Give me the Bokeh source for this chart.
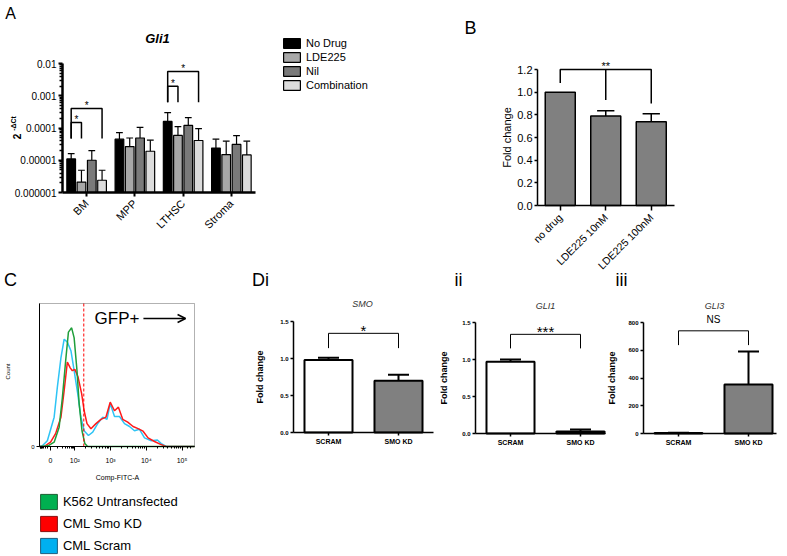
import numpy as np
from bokeh.plotting import figure
from bokeh.layouts import column, row
from bokeh.models import (Range1d, FixedTicker, Label, Legend, LegendItem, BoxAnnotation,
                          Arrow, OpenHead, PrintfTickFormatter)
from bokeh.embed import file_html
from bokeh.resources import INLINE

FONT = "Liberation Sans"

# ---------------- Panel A data ----------------
a_groups = ["BM", "MPP", "LTHSC", "Stroma"]
a_series = ["No Drug", "LDE225", "Nil", "Combination"]
a_colors = ["#000000", "#a8a8a8", "#7a7a7a", "#dcdcdc"]
a_no_drug = [1.1e-5, 4.5e-5, 1.6e-4, 2.4e-5]
a_no_drug_err = [1.6e-5, 7.2e-5, 3.0e-4, 4.5e-5]
a_lde225 = [2.1e-6, 2.65e-5, 5.9e-5, 1.5e-5]
a_lde225_err = [4.9e-6, 4.9e-5, 1.1e-4, 3.9e-5]
a_nil = [1.0e-5, 4.9e-5, 1.2e-4, 3.1e-5]
a_nil_err = [2.0e-5, 1.05e-4, 2.1e-4, 5.8e-5]
a_comb = [2.4e-6, 1.9e-5, 4.1e-5, 1.46e-5]
a_comb_err = [4.9e-6, 4.2e-5, 9.5e-5, 3.9e-5]
a_yticks = [1e-6, 1e-5, 1e-4, 1e-3, 1e-2]
a_ytick_labels = ["0.000001", "0.00001", "0.0001", "0.001", "0.01"]
# (group, series i, series j, bracket top, leg bottom, text)
a_sig = [("BM", 0, 3, 4.0e-4, 4.7e-5, "*"), ("BM", 0, 1, 1.48e-4, 4.7e-5, "*"),
         ("LTHSC", 0, 3, 5.65e-3, 6.3e-4, "*"), ("LTHSC", 0, 1, 1.98e-3, 6.3e-4, "*")]

# ---------------- Panel B data ----------------
b_categories = ["no drug", "LDE225 10nM", "LDE225 100nM"]
b_values = [1.0, 0.79, 0.74]
b_err = [1.0, 0.835, 0.81]
b_yticks = [0.0, 0.2, 0.4, 0.6, 0.8, 1.0, 1.2]

# ---------------- Panel C data (flow histogram, biexponential display units) ----------------
c_xticks = [1.32, 2, 3, 4, 5]
c_xtick_labels = ["0", "10²", "10³", "10⁴", "10⁵"]
c_green_x = [1.01, 1.25, 1.42, 1.56, 1.65, 1.75, 1.82, 1.91, 1.98, 2.06, 2.12, 2.20, 2.28, 2.36, 2.6, 5.35]
c_green_y = [0, 0.5, 3, 13.5, 34, 62, 80, 83, 76, 53, 30, 11, 2, 0, 0, 0]
c_cyan_x = [1.01, 1.09, 1.23, 1.42, 1.51, 1.61, 1.70, 1.79, 1.89, 1.98, 2.08, 2.17, 2.26, 2.38, 2.50,
            2.64, 2.78, 2.90, 2.99, 3.11, 3.25, 3.39, 3.53, 3.67, 3.81, 3.95, 4.14, 4.31, 4.42, 4.56, 5.35]
c_cyan_y = [0, 0.5, 4, 20.5, 41.5, 62, 75, 73, 67, 53, 37, 20.5, 11, 7.7, 10,
            16, 20.5, 19, 30, 21, 21, 16, 14, 11, 12, 6, 4, 4.5, 2, 0, 0]
c_red_x = [1.01, 1.14, 1.32, 1.46, 1.61, 1.70, 1.79, 1.87, 1.93, 2.0, 2.09, 2.19, 2.26, 2.34, 2.45,
           2.59, 2.73, 2.87, 2.99, 3.11, 3.22, 3.34, 3.48, 3.63, 3.77, 3.91, 4.05, 4.23, 4.40, 4.55, 5.35]
c_red_y = [0, 0, 3, 9, 20.5, 39, 59, 55, 53, 54, 48.5, 37, 25, 16, 12.4,
           16, 19, 20.5, 31, 25, 27.5, 19, 17, 14, 12.5, 10.7, 6, 3.5, 1.5, 0, 0]
c_gate = 2.25
c_legend = ["K562 Untransfected", "CML Smo KD", "CML Scram"]
c_legend_fill = ["#00b050", "#ff0000", "#00b0f0"]
c_legend_line = ["#1c5e33", "#8a1010", "#1d5f7f"]

# ---------------- Panel D data ----------------
d_categories = ["SCRAM", "SMO KD"]
d_colors = ["#ffffff", "#808080"]
smo_values = [0.98, 0.70]
smo_err = [1.01, 0.78]
gli1_values = [0.97, 0.027]
gli1_err = [1.0, 0.054]
gli3_values = [3, 353]
gli3_err = [5, 591]


def span_x(d0, d1, p0, p1, c0, c1):
    """data d0..d1 drawn at canvas pixels p0..p1; canvas spans c0..c1"""
    s = (p1 - p0) / (d1 - d0)
    return d0 - (p0 - c0) / s, d1 + (c1 - p1) / s


def span_y(d0, d1, pb, pt, cb, ct):
    """data d0 at pixel pb (bottom), d1 at pixel pt (top); canvas from ct (top) to cb (bottom)"""
    s = (pb - pt) / (d1 - d0)
    return d0 - (cb - pb) / s, d1 + (pt - ct) / s


class Geo:
    def __init__(self, x0, y0, w, h):
        self.x0, self.y0, self.w, self.h = x0, y0, w, h

    def sx(self, ix):
        return ix - self.x0

    def sy(self, iy):
        return self.y0 + self.h - iy


def make_fig(g, x_range, y_range, **kw):
    p = figure(width=g.w, height=g.h, min_border=0, x_range=x_range, y_range=y_range,
               output_backend="svg", toolbar_location=None, **kw)
    p.xgrid.visible = False
    p.ygrid.visible = False
    p.outline_line_color = None
    for ax in p.axis:
        ax.axis_line_color = "black"
        ax.major_tick_line_color = "black"
        ax.minor_tick_line_color = "black"
        ax.major_label_text_color = "black"
        ax.axis_label_text_color = "black"
        ax.major_label_text_font = FONT
        ax.axis_label_text_font = FONT
        ax.axis_label_text_font_style = "normal"
        ax.major_tick_in = 0
        ax.minor_tick_in = 0
    return p


def lab(p, x, y, text, size, units="screen", style="normal", angle=0, y_offset=0, color="black"):
    p.add_layout(Label(x=x, y=y, x_units=units, y_units=units, text=text,
                       text_font=FONT, text_font_size=f"{size}px", text_font_style=style,
                       text_align="center", text_baseline="middle", angle=angle,
                       y_offset=y_offset, text_color=color))


def bracket(p, x0, x1, top, leg0, leg1, width):
    p.multi_line(xs=[[x0, x0, x1, x1]], ys=[[leg0, top, top, leg1]],
                 line_color="black", line_width=width)


def cat_ticks(ax, cats):
    ax.ticker = FixedTicker(ticks=[i + 0.5 for i in range(len(cats))])
    ax.major_label_overrides = {i + 0.5: c for i, c in enumerate(cats)}


# ======================= Panel A =======================
gA = Geo(0, 0, 423, 270)
axr = span_x(0, 4, 62, 255, gA.x0, gA.x0 + gA.w)
lyr = span_y(-6, -2, 192, 63, gA.y0 + gA.h, gA.y0)
pA = make_fig(gA, Range1d(*axr), Range1d(10 ** lyr[0], 10 ** lyr[1]), y_axis_type="log")
for ax in pA.axis:
    ax.axis_line_width = 2.5
    ax.major_tick_line_width = 2
pA.yaxis.fixed_location = 0
pA.yaxis.bounds = (1e-6, 1e-2)
pA.yaxis.ticker = FixedTicker(ticks=a_yticks,
                              minor_ticks=[m * 10.0 ** e for e in range(-6, -2) for m in range(2, 10)])
pA.yaxis.major_label_overrides = {t: s for t, s in zip(a_yticks, a_ytick_labels)}
pA.yaxis.major_label_text_font_size = "10px"
pA.yaxis.major_tick_out = 4
pA.yaxis.minor_tick_out = 3
pA.yaxis.minor_tick_line_width = 1.5
pA.yaxis.major_label_standoff = 2
pA.xaxis.fixed_location = 1e-6
pA.xaxis.bounds = (0, 4)
cat_ticks(pA.xaxis, a_groups)
pA.xaxis.major_label_orientation = np.pi / 4
pA.xaxis.major_label_text_font_size = "11px"
pA.xaxis.major_tick_out = 4

a_offsets = [-0.32, -0.107, 0.107, 0.32]
a_vals = [a_no_drug, a_lde225, a_nil, a_comb]
a_errs = [a_no_drug_err, a_lde225_err, a_nil_err, a_comb_err]
a_x = []
a_renderers = []
for j in range(4):
    xs = [i + 0.5 + a_offsets[j] for i in range(len(a_groups))]
    a_x.append(xs)
    pA.segment(x0=xs, y0=a_vals[j], x1=xs, y1=a_errs[j], line_color="black", line_width=1.2)
    pA.segment(x0=[x - 0.07 for x in xs], y0=a_errs[j], x1=[x + 0.07 for x in xs], y1=a_errs[j],
               line_color="black", line_width=1.2)
    r = pA.vbar(x=xs, top=a_vals[j], bottom=1e-6, width=0.18, fill_color=a_colors[j],
                line_color="black", line_width=1.2)
    a_renderers.append(r)

for g, si, sj, top, leg, txt in a_sig:
    gi = a_groups.index(g)
    x0, x1 = a_x[si][gi], a_x[sj][gi]
    bracket(pA, x0, x1, top, leg, leg, 1.5)
    lab(pA, (x0 + x1) / 2, top, txt, 10, units="data", y_offset=3)

legA = Legend(items=[LegendItem(label=n, renderers=[r]) for n, r in zip(a_series, a_renderers)],
              location=(gA.sx(281), gA.sy(91.5)), glyph_width=21, glyph_height=12, label_height=13,
              spacing=1, padding=0, margin=0, label_standoff=4, border_line_color=None,
              background_fill_alpha=0, label_text_font=FONT, label_text_font_size="11px",
              label_text_color="black")
pA.add_layout(legA)

lab(pA, gA.sx(10), gA.sy(13), "A", 16)
lab(pA, gA.sx(157), gA.sy(38), "Gli1", 13, style="bold italic")
lab(pA, gA.sx(16), gA.sy(136), "2", 10, style="bold", angle=np.pi / 2)
lab(pA, gA.sx(13), gA.sy(123), "-ΔCt", 7, style="bold", angle=np.pi / 2)

# ======================= Panel B =======================
gB = Geo(423, 0, 363, 270)
pB = make_fig(gB, Range1d(*span_x(0, 3, 537, 673.5, gB.x0, gB.x0 + gB.w)),
              Range1d(*span_y(0, 1.2, 205, 69, gB.y0 + gB.h, gB.y0)))
for ax in pB.axis:
    ax.axis_line_width = 1.5
    ax.major_tick_line_width = 1.5
pB.yaxis.fixed_location = 0
pB.yaxis.bounds = (0, 1.2)
pB.yaxis.ticker = FixedTicker(ticks=b_yticks)
pB.yaxis.formatter = PrintfTickFormatter(format="%.1f")
pB.yaxis.major_label_text_font_size = "11px"
pB.yaxis.major_tick_out = 3
pB.yaxis.major_label_standoff = 2
pB.yaxis.axis_label = "Fold change"
pB.yaxis.axis_label_text_font_size = "11px"
pB.yaxis.axis_label_standoff = 1
pB.xaxis.fixed_location = 0
pB.xaxis.bounds = (0, 3)
cat_ticks(pB.xaxis, b_categories)
pB.xaxis.major_label_orientation = np.pi / 4
pB.xaxis.major_label_text_font_size = "10.5px"
pB.xaxis.major_tick_out = 5
b_x = [i + 0.5 for i in range(len(b_categories))]
bx_e = [x for x, v, e in zip(b_x, b_values, b_err) if e > v]
bv_e = [v for v, e in zip(b_values, b_err) if e > v]
be_e = [e for v, e in zip(b_values, b_err) if e > v]
pB.segment(x0=bx_e, y0=bv_e, x1=bx_e, y1=be_e, line_color="black", line_width=1.5)
pB.segment(x0=[x - 0.19 for x in bx_e], y0=be_e, x1=[x + 0.19 for x in bx_e], y1=be_e,
           line_color="black", line_width=1.5)
pB.vbar(x=b_x, top=b_values, bottom=0, width=0.66, fill_color="#808080",
        line_color="black", line_width=1.5)
bracket(pB, b_x[0], b_x[2], 1.2, 1.08, 0.90, 1.5)
pB.segment(x0=[b_x[1]], y0=[1.2], x1=[b_x[1]], y1=[0.93], line_color="black", line_width=1.5)
lab(pB, b_x[1], 1.2, "**", 11, units="data", y_offset=4)
lab(pB, gB.sx(470), gB.sy(27), "B", 18)

# ======================= Panel C =======================
gC = Geo(0, 270, 200, 285)
pC = make_fig(gC, Range1d(*span_x(1.01, 5.35, 39, 194, gC.x0, gC.x0 + gC.w)),
              Range1d(*span_y(0, 100, 446, 303, gC.y0 + gC.h, gC.y0)))
pC.add_layout(BoxAnnotation(left=1.01, right=5.35, bottom=0, top=100, fill_alpha=0,
                            line_color="black", line_width=1))
c_minor = [1.32 + (2 - 1.32) * f for f in np.log10(np.arange(2, 10))] + \
          [1.32 - (1.32 - 1.01) * f for f in np.log10(np.arange(2, 10))] + \
          [d + f for d in (2, 3, 4) for f in np.log10(np.arange(2, 10))] + [5.15, 5.25]
pC.xaxis.fixed_location = 0
pC.xaxis.bounds = (1.01, 5.35)
pC.xaxis.ticker = FixedTicker(ticks=c_xticks, minor_ticks=c_minor)
pC.xaxis.major_label_overrides = {t: s for t, s in zip(c_xticks, c_xtick_labels)}
pC.xaxis.major_label_text_font_size = "7px"
pC.xaxis.major_tick_out = 4
pC.xaxis.minor_tick_out = 2
pC.xaxis.major_label_standoff = 6
pC.yaxis.fixed_location = 1.01
pC.yaxis.bounds = (0, 100)
pC.yaxis.ticker = FixedTicker(ticks=[0])
pC.yaxis.major_label_text_font_size = "6px"
pC.yaxis.major_tick_out = 3
pC.yaxis.major_label_standoff = 2

pC.line(c_cyan_x, c_cyan_y, line_color="#2ec4f5", line_width=1.5)
pC.line(c_red_x, c_red_y, line_color="#ff1a1a", line_width=1.5)
pC.line(c_green_x, c_green_y, line_color="#1f9e3a", line_width=1.5)
pC.segment(x0=[c_gate], y0=[0], x1=[c_gate], y1=[100], line_color="red",
           line_dash="3 2", line_width=1)
lab(pC, 3.18, 89.5, "GFP+", 17, units="data")
pC.add_layout(Arrow(end=OpenHead(size=8, line_width=1.5, line_color="black"),
                    x_start=3.92, y_start=89.5, x_end=5.10, y_end=89.5,
                    line_width=1.5, line_color="black"))
lab(pC, gC.sx(7), gC.sy(371), "Count", 6, angle=np.pi / 2)
lab(pC, gC.sx(117), gC.sy(477), "Comp-FITC-A", 7)
lab(pC, gC.sx(10), gC.sy(279), "C", 18)

# legend swatches: drawn off the visible range, shown only as legend boxes
c_rends = [pC.quad(left=[9], right=[10], top=[1], bottom=[0], fill_color=f, line_color=l, line_width=1)
           for f, l in zip(c_legend_fill, c_legend_line)]
legC = Legend(items=[LegendItem(label=n, renderers=[r]) for n, r in zip(c_legend, c_rends)],
              location=(gC.sx(37.9), gC.sy(555)), glyph_width=21, glyph_height=19, label_height=19,
              spacing=3, padding=0, margin=0, label_standoff=4, border_line_color=None,
              background_fill_alpha=0, label_text_font=FONT, label_text_font_size="13px",
              label_text_color="black")
pC.add_layout(legC)


# ======================= Panel D =======================
def d_panel(g, px, py, xmax, ymax, yticks, fmt, values, errs, top, leg, sig, sig_size,
            sig_off, title, tpos, letter, lpos, standoff):
    p = make_fig(g, Range1d(*span_x(0, xmax, px[0], px[1], g.x0, g.x0 + g.w)),
                 Range1d(*span_y(0, ymax, py[0], py[1], g.y0 + g.h, g.y0)))
    for ax in p.axis:
        ax.axis_line_width = 1.5
        ax.major_tick_line_width = 1.5
        ax.major_tick_out = 3
        ax.major_label_standoff = 2
        ax.major_label_text_font_style = "bold"
    p.yaxis.fixed_location = 0
    p.yaxis.bounds = (0, ymax)
    p.yaxis.ticker = FixedTicker(ticks=yticks)
    p.yaxis.formatter = PrintfTickFormatter(format=fmt)
    p.yaxis.major_label_text_font_size = "6px"
    p.yaxis.axis_label = "Fold change"
    p.yaxis.axis_label_text_font_size = "9px"
    p.yaxis.axis_label_text_font_style = "bold"
    p.yaxis.axis_label_standoff = standoff
    p.xaxis.fixed_location = 0
    p.xaxis.bounds = (0, xmax)
    cat_ticks(p.xaxis, d_categories)
    p.xaxis.major_label_text_font_size = "7px"
    xs = [i + 0.5 for i in range(len(d_categories))]
    cap = 0.15
    p.segment(x0=xs, y0=values, x1=xs, y1=errs, line_color="black", line_width=2)
    p.segment(x0=[x - cap for x in xs], y0=errs, x1=[x + cap for x in xs], y1=errs,
              line_color="black", line_width=2)
    p.vbar(x=xs, top=values, bottom=0, width=0.686, fill_color=d_colors,
           line_color="black", line_width=2)
    bracket(p, xs[0], xs[1], top, leg, leg, 1)
    lab(p, (xs[0] + xs[1]) / 2, top, sig, sig_size, units="data", y_offset=sig_off)
    lab(p, g.sx(tpos[0]), g.sy(tpos[1]), title, 9, style="italic", color="#333333")
    lab(p, g.sx(lpos[0]), g.sy(lpos[1]), letter, 18)
    return p


pDi = d_panel(Geo(200, 270, 240, 285), (293, 433), (432, 321), 2.0, 1.5, [0, 0.5, 1.0, 1.5], "%.1f",
              smo_values, smo_err, 1.34, 1.14, "*", 15, 3, "SMO", (362, 303), "Di", (260, 279), 12)
pDii = d_panel(Geo(440, 270, 166, 285), (475, 605), (433, 322), 1.857, 1.5, [0, 0.5, 1.0, 1.5], "%.1f",
               gli1_values, gli1_err, 1.34, 1.15, "***", 15, 3, "GLI1", (545, 305), "ii", (458, 279), 10)
pDiii = d_panel(Geo(606, 270, 180, 285), (643, 776), (433, 322), 1.9, 800, [0, 200, 400, 600, 800], "%d",
                gli3_values, gli3_err, 740, 637, "NS", 10, 11, "GLI3", (714, 305), "iii", (621, 279), 8)

layout = column(row(pA, pB), row(pC, pDi, pDii, pDiii))
open("out.html", "w").write(file_html(layout, INLINE))
